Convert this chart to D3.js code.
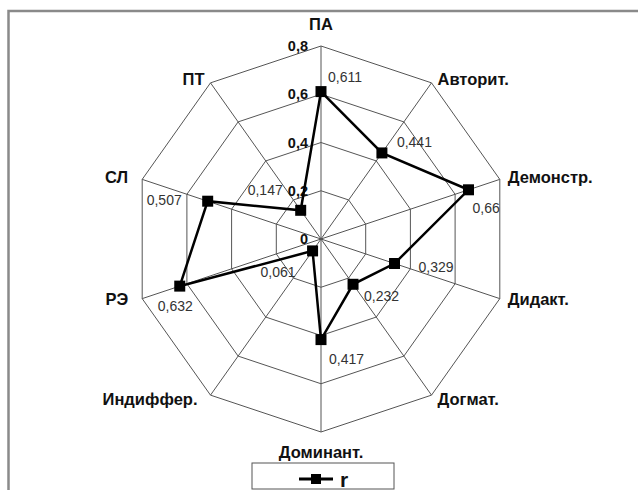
<!DOCTYPE html>
<html>
<head>
<meta charset="utf-8">
<script src="https://cdn.jsdelivr.net/npm/d3@7"></script>
<style>
  body { margin: 0; background: #fff; }
  svg { display: block; font-family: Arial, 'Liberation Sans', sans-serif; }
</style>
</head>
<body>
<div id="chart"></div>
<script>
// data
const categories = ['ПА', 'Авторит.', 'Демонстр.', 'Дидакт.', 'Догмат.',
  'Доминант.', 'Индиффер.', 'РЭ', 'СЛ', 'ПТ'];
const values = [0.611, 0.441, 0.66, 0.329, 0.232, 0.417, 0.061, 0.632, 0.507, 0.147];
const ticks = [0, 0.2, 0.4, 0.6, 0.8];
const seriesName = 'r';

// label placement (offset from point / outer vertex)
const valueLabelOffsets = [[7, -10], [15, -6], [4, 23], [24, 8], [11, 17],
  [8, 24], [-52, 26], [-22, 25], [-61, 4], [-53, -15]];
const catLabelOffsets = [[0, -16, 'middle'], [6, 2, 'start'], [8, 4, 'start'],
  [8, 6, 'start'], [6, 10, 'start'], [0, 26, 'middle'], [-13, 10, 'end'],
  [-14, 6, 'end'], [-14, 4, 'end'], [-6, 2, 'end']];

const width = 638;
const height = 490;
const cx = 321;
const cy = 239;

const ru = d3.formatLocale({ decimal: ',', thousands: ' ', grouping: [3], currency: ['', ''] });
const fmt = v => ru.format('')(v);

const rx = d3.scaleLinear().domain([0, 0.8]).range([0, 188]);
const ry = d3.scaleLinear().domain([0, 0.8]).range([0, 193]);
const angle = d3.scaleLinear().domain([0, categories.length]).range([0, 2 * Math.PI]);

const px = (v, i) => cx + rx(v) * Math.sin(angle(i));
const py = (v, i) => cy - ry(v) * Math.cos(angle(i));

const svg = d3.select('#chart')
  .append('svg')
  .attr('width', width)
  .attr('height', height);

// outer frame (top and left edges visible)
svg.append('path')
  .attr('d', `M8.5,${height} L8.5,11 L${width},11`)
  .attr('fill', 'none')
  .attr('stroke', '#8a8a8a')
  .attr('stroke-width', 2.5);

// grid rings
const grid = svg.append('g').attr('class', 'grid');
ticks.filter(t => t > 0).forEach(t => {
  grid.append('polygon')
    .attr('points', categories.map((c, i) => `${px(t, i)},${py(t, i)}`).join(' '))
    .attr('fill', 'none')
    .attr('stroke', '#555')
    .attr('stroke-width', 1);
});

// spokes
grid.selectAll('line')
  .data(categories)
  .join('line')
  .attr('x1', cx)
  .attr('y1', cy)
  .attr('x2', (d, i) => px(0.8, i))
  .attr('y2', (d, i) => py(0.8, i))
  .attr('stroke', '#555')
  .attr('stroke-width', 1);

// tick labels
svg.append('g')
  .selectAll('text')
  .data(ticks)
  .join('text')
  .attr('x', cx - 13)
  .attr('y', d => cy - ry(d) + 5)
  .attr('text-anchor', 'end')
  .attr('font-size', 14.5)
  .attr('font-weight', 'bold')
  .attr('fill', '#111')
  .text(d => fmt(d));

// category labels
svg.append('g')
  .selectAll('text')
  .data(categories)
  .join('text')
  .attr('x', (d, i) => px(0.8, i) + catLabelOffsets[i][0])
  .attr('y', (d, i) => py(0.8, i) + catLabelOffsets[i][1])
  .attr('text-anchor', (d, i) => catLabelOffsets[i][2])
  .attr('font-size', 16.5)
  .attr('font-weight', 'bold')
  .attr('fill', '#111')
  .text(d => d);

// series line
const line = d3.line()
  .x(d => px(d.v, d.i))
  .y(d => py(d.v, d.i))
  .curve(d3.curveLinearClosed);

const pts = values.map((v, i) => ({ v, i }));

svg.append('path')
  .datum(pts)
  .attr('d', line)
  .attr('fill', 'none')
  .attr('stroke', '#000')
  .attr('stroke-width', 2.5);

svg.append('g')
  .selectAll('path')
  .data(pts)
  .join('path')
  .attr('d', d3.symbol().type(d3.symbolSquare).size(121))
  .attr('transform', d => `translate(${px(d.v, d.i)},${py(d.v, d.i)})`)
  .attr('fill', '#000');

// value labels
svg.append('g')
  .selectAll('text')
  .data(pts)
  .join('text')
  .attr('x', d => px(d.v, d.i) + valueLabelOffsets[d.i][0])
  .attr('y', d => py(d.v, d.i) + valueLabelOffsets[d.i][1])
  .attr('font-size', 14)
  .attr('fill', '#333')
  .text(d => fmt(d.v));

// legend
const legend = svg.append('g').attr('transform', 'translate(252,463)');
legend.append('rect')
  .attr('width', 142)
  .attr('height', 26)
  .attr('fill', '#fff')
  .attr('stroke', '#555')
  .attr('stroke-width', 1);
legend.append('line')
  .attr('x1', 47).attr('x2', 81)
  .attr('y1', 16).attr('y2', 16)
  .attr('stroke', '#000')
  .attr('stroke-width', 3);
legend.append('path')
  .attr('d', d3.symbol().type(d3.symbolSquare).size(100))
  .attr('transform', 'translate(64,16)')
  .attr('fill', '#000');
legend.append('text')
  .attr('x', 88)
  .attr('y', 24)
  .attr('font-size', 21)
  .attr('font-weight', 'bold')
  .attr('fill', '#111')
  .text(seriesName);
</script>
</body>
</html>
